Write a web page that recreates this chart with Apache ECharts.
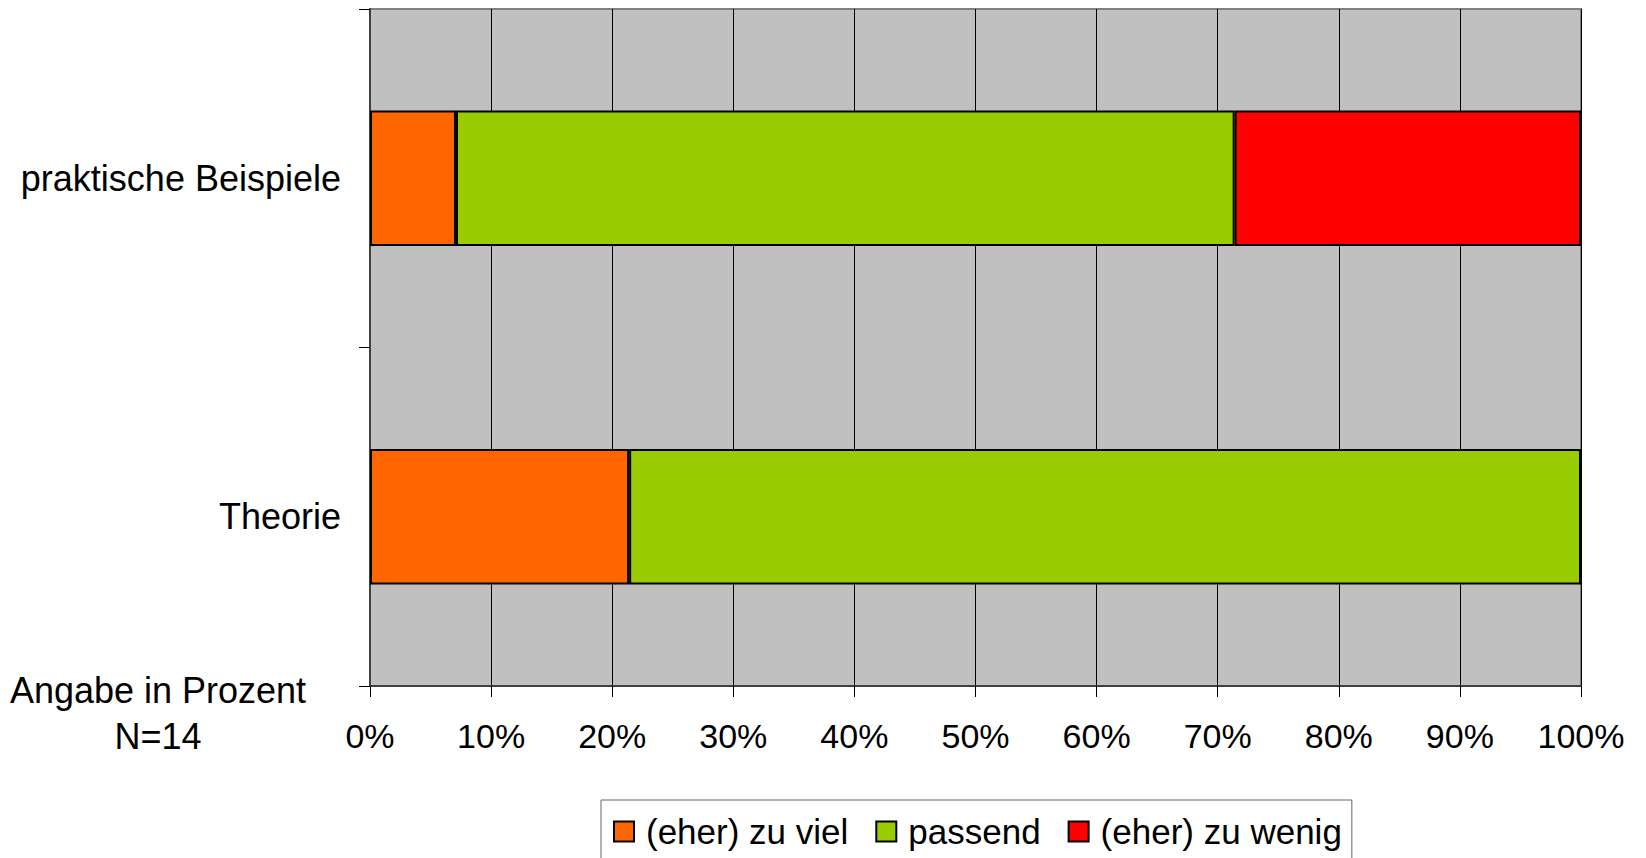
<!DOCTYPE html>
<html>
<head>
<meta charset="utf-8">
<script src="https://cdn.jsdelivr.net/npm/echarts@6/dist/echarts.min.js"></script>
<style>
html,body{margin:0;padding:0;background:#fff;}
#chart{width:1646px;height:858px;}
</style>
</head>
<body>
<div id="chart"></div>
<script>
var categories = ['praktische Beispiele', 'Theorie'];
var seriesNames = ['(eher) zu viel', 'passend', '(eher) zu wenig'];
var zuViel = [7.1, 21.4];
var passend = [64.3, 78.6];
var zuWenig = [28.6, 0];
var xTicks = [0, 10, 20, 30, 40, 50, 60, 70, 80, 90, 100];
var noteLines = ['Angabe in Prozent', 'N=14'];

var colors = ['#FF6600', '#99CC00', '#FF0000'];
var FONT = '"Liberation Sans", Arial, sans-serif';

var chart = echarts.init(document.getElementById('chart'), null, {renderer: 'svg'});

function mk(name, data, color) {
  return {
    name: name,
    type: 'bar',
    stack: 'total',
    data: data,
    barCategoryGap: '60%',
    itemStyle: {color: color, borderColor: '#000', borderWidth: 2},
    emphasis: {disabled: true}
  };
}

chart.setOption({
  animation: false,
  backgroundColor: '#fff',
  textStyle: {fontFamily: FONT},
  grid: {
    left: 370, right: 65, top: 9, bottom: 172,
    show: true, backgroundColor: '#C0C0C0', borderColor: '#808080', borderWidth: 2
  },
  xAxis: {
    type: 'value',
    min: xTicks[0], max: xTicks[xTicks.length - 1], interval: xTicks[1] - xTicks[0],
    axisLine: {show: true, lineStyle: {color: '#404040', width: 2}},
    axisTick: {show: true, length: 11, lineStyle: {color: '#000', width: 1}},
    splitLine: {show: true, lineStyle: {color: '#000', width: 1}},
    axisLabel: {formatter: '{value}%', fontSize: 34, color: '#000', margin: 33, fontFamily: FONT}
  },
  yAxis: {
    type: 'category',
    data: categories,
    inverse: true,
    axisLine: {show: true, lineStyle: {color: '#404040', width: 2}},
    axisTick: {show: true, length: 11, lineStyle: {color: '#000', width: 1}},
    axisLabel: {fontSize: 36, color: '#000', margin: 29, fontFamily: FONT},
    splitLine: {show: false}
  },
  legend: {
    data: seriesNames,
    left: 601, top: 800,
    orient: 'horizontal',
    icon: 'rect',
    itemWidth: 20, itemHeight: 20,
    itemGap: 27,
    padding: [14, 10, 14, 12],
    borderColor: '#666', borderWidth: 1,
    backgroundColor: '#fff',
    selectedMode: false,
    textStyle: {fontSize: 35, color: '#000', fontFamily: FONT, padding: [0, 0, 0, 7]}
  },
  graphic: [
    {type: 'text', x: 158, y: 690, style: {text: noteLines[0], font: '36px ' + FONT, fill: '#000', align: 'center', verticalAlign: 'middle'}},
    {type: 'text', x: 158, y: 736, style: {text: noteLines[1], font: '36px ' + FONT, fill: '#000', align: 'center', verticalAlign: 'middle'}}
  ],
  series: [
    mk(seriesNames[0], zuViel, colors[0]),
    mk(seriesNames[1], passend, colors[1]),
    mk(seriesNames[2], zuWenig, colors[2])
  ]
});
</script>
</body>
</html>
